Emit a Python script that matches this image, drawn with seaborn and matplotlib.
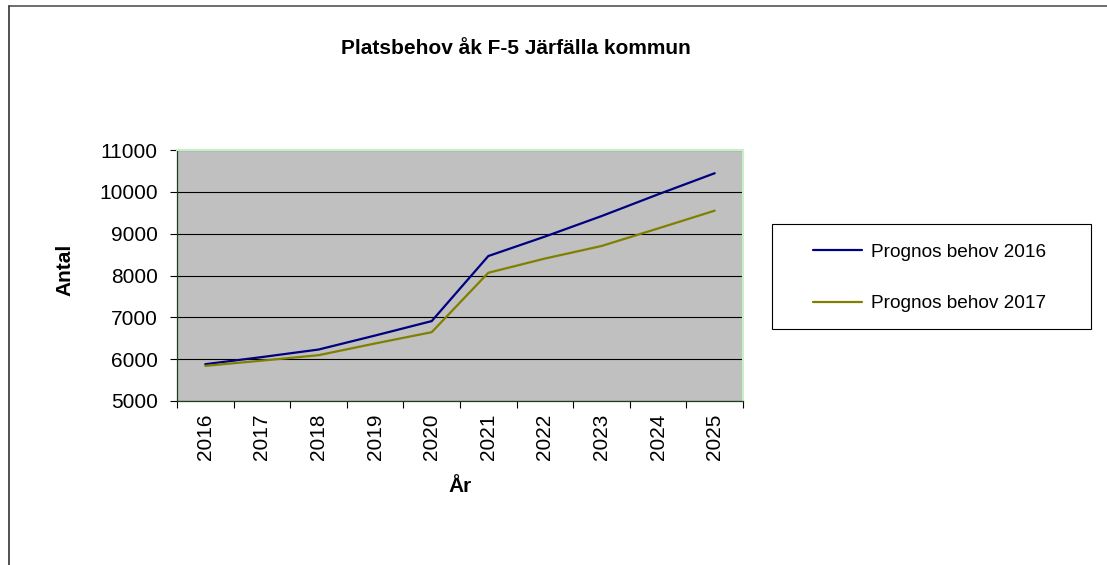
import numpy as np
import pandas as pd
import matplotlib.pyplot as plt
from matplotlib.lines import Line2D
from matplotlib.patches import Rectangle
import seaborn as sns

# Data
years = ['2016', '2017', '2018', '2019', '2020', '2021', '2022', '2023', '2024', '2025']
prognos_2016 = [5880, 6050, 6230, 6565, 6910, 8465, 8930, 9420, 9940, 10445]
prognos_2017 = [5840, 5965, 6095, 6375, 6645, 8065, 8405, 8705, 9125, 9550]
series_names = ['Prognos behov 2016', 'Prognos behov 2017']

df = pd.DataFrame({
    'År': list(range(len(years))) * 2,
    'Antal': prognos_2016 + prognos_2017,
    'Serie': [series_names[0]] * len(years) + [series_names[1]] * len(years),
})

sns.set_style('white')
plt.rcParams['font.family'] = ['Liberation Sans', 'DejaVu Sans']
plt.rcParams['text.color'] = 'black'
plt.rcParams['xtick.color'] = 'black'
plt.rcParams['ytick.color'] = 'black'

fig = plt.figure(figsize=(11.07, 5.65), dpi=100)
ax = fig.add_axes([177 / 1107, 1 - 401 / 565, 566 / 1107, 251 / 565])
ax.set_facecolor('#c0c0c0')

sns.lineplot(data=df, x='År', y='Antal', hue='Serie', palette=['#000080', '#808000'],
             linewidth=1.6, ax=ax, legend=True)

# y axis
ax.set_ylim(5000, 11000)
ax.set_yticks(np.arange(5000, 11001, 1000))
ax.yaxis.grid(True, color='black', linewidth=0.8)
ax.set_axisbelow(True)
ax.tick_params(axis='y', direction='out', length=5, width=0.8, pad=9, labelsize=15, left=True)

# x axis: category style, ticks between categories
ax.set_xlim(-0.5, len(years) - 0.5)
ax.set_xticks(np.arange(-0.5, len(years), 1.0))
ax.set_xticklabels([])
ax.set_xticks(range(len(years)), minor=True)
ax.set_xticklabels(years, minor=True, rotation=90)
ax.tick_params(axis='x', which='major', direction='out', length=5, width=0.8, bottom=True)
ax.tick_params(axis='x', which='minor', length=0, pad=9, labelsize=15)

ax.set_xlabel('')
ax.set_ylabel('')

for side in ['top', 'right']:
    ax.spines[side].set_color('#c8f0c8')
    ax.spines[side].set_linewidth(1.5)
for side in ['left', 'bottom']:
    ax.spines[side].set_color('#1f3d1f')
    ax.spines[side].set_linewidth(0.9)

# legend
handles, labels = ax.get_legend_handles_labels()
ax.get_legend().remove()
fig.legend(handles, labels, loc='upper left', bbox_to_anchor=(803 / 1107, 1 - 234 / 565),
           frameon=False, fontsize=13.7, labelspacing=1.8, handlelength=2.6,
           handletextpad=0.45, borderpad=0)
fig.add_artist(Rectangle((772 / 1107, 1 - 329 / 565), 319 / 1107, 105 / 565,
                         transform=fig.transFigure, fill=False, edgecolor='black', linewidth=0.8))

# titles
fig.text(516 / 1107, 1 - 48 / 565, 'Platsbehov åk F-5 Järfälla kommun',
         ha='center', va='center', fontsize=15, fontweight='bold')
fig.text(65 / 1107, 1 - 270 / 565, 'Antal', ha='center', va='center',
         rotation=90, fontsize=15, fontweight='bold')
fig.text(460 / 1107, 1 - 486 / 565, 'År', ha='center', va='center',
         fontsize=15, fontweight='bold')

# outer frame (top and left edges)
fig.add_artist(Line2D([9 / 1107, 1], [1 - 6 / 565, 1 - 6 / 565], transform=fig.transFigure,
                      color='#555555', linewidth=1.2))
fig.add_artist(Line2D([9 / 1107, 9 / 1107], [0, 1 - 6 / 565], transform=fig.transFigure,
                      color='#333333', linewidth=1.2))

fig.savefig('out.png', dpi=100)
